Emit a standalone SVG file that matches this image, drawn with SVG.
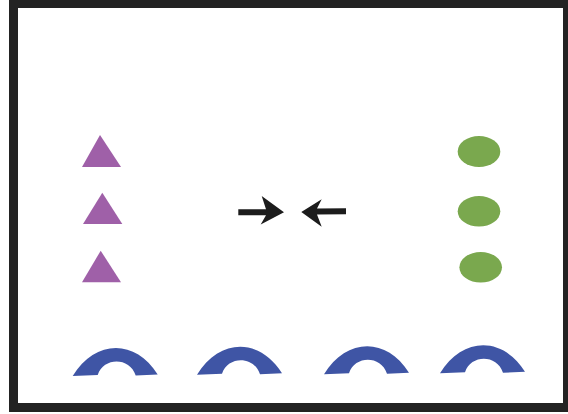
<svg xmlns="http://www.w3.org/2000/svg" width="568" height="414" viewBox="0 0 568 414">
  <style>
    .tri { fill: #9f60a8; }
    .dot { fill: #7aa84e; }
    .arch { fill: #3f55a5; }
    .arrow { fill: #1c1c1c; }
  </style>
  <defs>
    <path id="archShape" d="M0 0 C22 -36 62 -38 85 -1.5 L63 -0.5 C57 -19 31 -19 25 -1 Z"/>
  </defs>
  <rect x="13.5" y="3.5" width="554" height="404" fill="#ffffff" stroke="#232323" stroke-width="9"/>
  <g id="tri1"><polygon class="tri" points="100,135 121,167 82,167"/></g>
  <g id="tri2"><polygon class="tri" points="102.3,192.7 122.3,224 83,224"/></g>
  <g id="tri3"><polygon class="tri" points="100.7,250.7 121,282.3 82,282.3"/></g>
  <g id="dot1"><ellipse class="dot" cx="479" cy="151.5" rx="21.3" ry="15.5"/></g>
  <g id="dot2"><ellipse class="dot" cx="479" cy="211.3" rx="21.3" ry="15.3"/></g>
  <g id="dot3"><ellipse class="dot" cx="480.7" cy="267.3" rx="21.3" ry="15.3"/></g>
  <g id="arch1"><use href="#archShape" class="arch" transform="translate(72.7 376)"/></g>
  <g id="arch2"><use href="#archShape" class="arch" transform="translate(197 374.7)"/></g>
  <g id="arch3"><use href="#archShape" class="arch" transform="translate(324 374.3)"/></g>
  <g id="arch4"><use href="#archShape" class="arch" transform="translate(440 373.3)"/></g>
  <g id="connectors">
    <path class="arrow" d="M238.3 209.3 L266 209.3 L261.7 196 L284 212.3 L260.7 224.5 L266 215.3 L238.3 215.3 Z"/>
    <path class="arrow" d="M346 208.3 L317 208.5 L321.7 199.3 L301.3 212 L321.7 226.7 L317 214.5 L346 214.3 Z"/>
  </g>
</svg>
